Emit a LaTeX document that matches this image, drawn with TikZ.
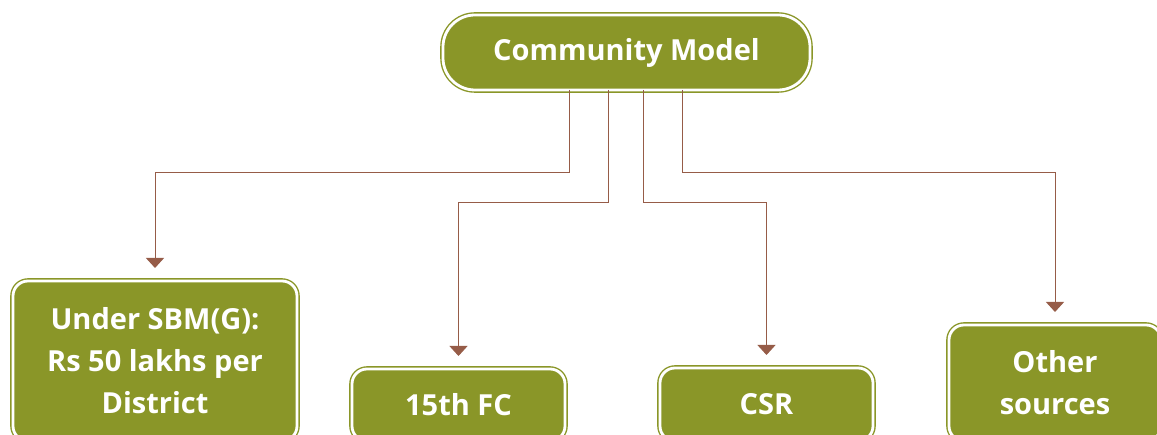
\documentclass[tikz,border=0pt]{standalone}
\usepackage{fontspec}
\setmainfont{Open Sans}
\usetikzlibrary{arrows.meta}

\definecolor{olive}{RGB}{138,150,40}
\definecolor{brownline}{RGB}{150,92,72}

\tikzset{
  box/.style={rectangle, rounded corners=15pt, fill=olive, draw=olive,
    line width=1.4pt, double=white, double distance=2.8pt, outer sep=0pt,
    text=white, align=center, inner sep=0pt,
    font=\fontsize{29}{42}\selectfont\bfseries},
  link/.style={draw=brownline, line width=1pt,
    -{Triangle[width=18pt,length=10pt]}, shorten >=13pt}
}

\begin{document}
\begin{tikzpicture}[x=1pt,y=-1pt]

      \useasboundingbox (0,0) rectangle (1157,435);
      \clip (0,0) rectangle (1157,435);

      \node[box, rounded corners=32pt, minimum width=367pt, minimum height=75pt]
        (cm) at (626.5,52.5) {Community Model};

      \begin{scope}[every node/.style={box}]
        \node[minimum width=284pt, minimum height=160pt] (sbm) at (155,361)
          {Under SBM(G):\\Rs 50 lakhs per\\District};
        \node[minimum width=213pt, minimum height=72pt] (fc) at (458.5,405) {15th FC};
        \node[minimum width=213pt, minimum height=73pt] (csr) at (766.5,404.5) {CSR};
        \node[minimum width=212pt, minimum height=116pt] (other) at (1055,383)
          {Other\\sources};
      \end{scope}

      \begin{scope}[every path/.style={link}]
        \draw ([xshift=-57pt]cm.south) -- ++(0,83) -| (sbm.north);
        \draw ([xshift=-18pt]cm.south) -- ++(0,113) -| (fc.north);
        \draw ([xshift=17pt]cm.south) -- ++(0,113) -| (csr.north);
        \draw ([xshift=56pt]cm.south) -- ++(0,83) -| (other.north);
      \end{scope}

    \end{tikzpicture}
\end{document}
